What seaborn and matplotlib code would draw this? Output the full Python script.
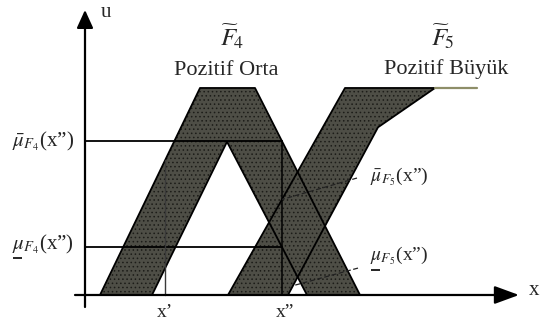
import numpy as np
import matplotlib
matplotlib.use("Agg")
import matplotlib.pyplot as plt
import seaborn as sns

# Interval type-2 fuzzy sets: footprints of uncertainty for F4 and F5
# upper / lower membership functions (x position, membership u)
f4_upper_x = [1.5, 11.5, 17.0, 27.5]
f4_upper_u = [0.0, 1.0, 1.0, 0.0]
f4_lower_x = [6.7, 14.2, 22.2]
f4_lower_u = [0.0, 0.74, 0.0]

f5_upper_x = [14.3, 26.0, 35.0]
f5_upper_u = [0.0, 1.0, 1.0]
f5_lower_x = [20.3, 29.3, 35.0]
f5_lower_u = [0.0, 0.81, 1.0]
f5_shoulder_end = 39.2

x_prime = 8.0
x_dprime = 19.7

set_names = [r"$\widetilde{F}_{\!4}$", r"$\widetilde{F}_{\!5}$"]
set_labels = ["Pozitif Orta", "Pozitif Büyük"]

sns.set_style("white")
plt.rcParams["font.family"] = ["Liberation Serif", "DejaVu Serif"]
plt.rcParams["mathtext.fontset"] = "stix"
plt.rcParams["hatch.linewidth"] = 0.6

fig = plt.figure(figsize=(5.41, 3.27), dpi=100)
ax = fig.add_axes([0, 0, 1, 1])
ax.set_xlim(-8.5, 45.6)
ax.set_ylim(-0.1546, 1.425)
ax.axis("off")

FILL = "#4e4e46"
GRAIN = "#1c1c18"


def fou(ux, uu, lx, lu, x0, x1):
    xs = np.linspace(x0, x1, 1200)
    up = np.interp(xs, ux, uu, left=0.0, right=0.0)
    lo = np.interp(xs, lx, lu, left=0.0, right=0.0)
    ax.fill_between(xs, lo, up, facecolor=FILL, edgecolor=GRAIN,
                    hatch="....", linewidth=0, zorder=1)


fou(f4_upper_x, f4_upper_u, f4_lower_x, f4_lower_u, f4_upper_x[0], f4_upper_x[-1])
fou(f5_upper_x, f5_upper_u, f5_lower_x, f5_lower_u, f5_upper_x[0], f5_upper_x[-1])

# membership function outlines
for xs, us in [(f4_upper_x, f4_upper_u), (f4_lower_x, f4_lower_u),
               (f5_upper_x, f5_upper_u), (f5_lower_x, f5_lower_u)]:
    sns.lineplot(x=xs, y=us, ax=ax, color="black", lw=1.3, sort=False,
                 estimator=None, zorder=3)
sns.lineplot(x=[f5_upper_x[-1], f5_shoulder_end], y=[1.0, 1.0], ax=ax,
             color="#8e8e68", lw=1.6, sort=False, estimator=None, zorder=3)

# membership grades at x'' and x'
mu4_up = np.interp(x_dprime, f4_upper_x, f4_upper_u)
mu4_lo = np.interp(x_dprime, f4_lower_x, f4_lower_u)
mu5_up = np.interp(x_dprime, f5_upper_x, f5_upper_u)
mu_xp = np.interp(x_prime, f4_upper_x, f4_upper_u)

ax.plot([0, x_dprime], [mu4_up, mu4_up], color="black", lw=1.3, zorder=4)
ax.plot([0, x_dprime], [mu4_lo, mu4_lo], color="black", lw=1.3, zorder=4)
ax.plot([x_dprime, x_dprime], [0, mu4_up], color="black", lw=1.1, zorder=4)
ax.plot([x_prime, x_prime], [0, mu_xp], color="#3a3a3a", lw=1.0, zorder=4)

# leaders for the F5 grades
ax.plot([27.2, x_dprime], [0.565, mu5_up], color="#222222", lw=0.9,
        ls=(0, (4, 2)), zorder=4)
ax.plot([27.3, 20.8], [0.13, np.interp(20.8, f5_lower_x, f5_lower_u)],
        color="#222222", lw=0.9, ls=(0, (4, 2)), zorder=4)

# axes with arrowheads
ax.annotate("", xy=(43.4, 0), xytext=(-1.0, 0),
            arrowprops=dict(arrowstyle="-|>,head_length=1.5,head_width=0.55",
                            mutation_scale=10, lw=1.6,
                            color="black", shrinkA=0, shrinkB=0), zorder=5)
ax.annotate("", xy=(0, 1.377), xytext=(0, -0.058),
            arrowprops=dict(arrowstyle="-|>,head_length=1.1,head_width=0.5",
                            mutation_scale=10, lw=1.6,
                            color="black", shrinkA=0, shrinkB=0), zorder=5)
ax.text(44.9, 0.02, "x", fontsize=15, ha="center", va="center")
ax.text(2.1, 1.365, "u", fontsize=15, ha="center", va="center")
ax.text(x_prime, -0.085, "x’", fontsize=14, ha="center", va="center")
ax.text(x_dprime + 0.3, -0.085, "x”", fontsize=14, ha="center", va="center")

# set names
ax.text(14.7, 1.245, set_names[0], fontsize=18, ha="center", va="center")
ax.text(14.1, 1.085, set_labels[0], fontsize=16, ha="center", va="center")
ax.text(35.8, 1.245, set_names[1], fontsize=18, ha="center", va="center")
ax.text(36.1, 1.09, set_labels[1], fontsize=16, ha="center", va="center")


def grade_label(x, y, bar, idx, size=15):
    if bar == "upper":
        s = r"$\bar{\mu}_{F_{%s}}$(x”)" % idx
    else:
        s = r"$\mu_{F_{%s}}$(x”)" % idx
    ax.text(x, y, s, fontsize=size, ha="left", va="center", zorder=6)
    if bar == "lower":
        # underline beneath the mu marks the lower membership grade
        ax.plot([x + 0.1, x + 1.0], [y - 0.068, y - 0.068], color="black",
                lw=1.2, solid_capstyle="butt", zorder=6)


grade_label(-7.3, 0.74, "upper", 4)
grade_label(-7.3, 0.245, "lower", 4)
grade_label(28.5, 0.57, "upper", 5, size=14)
grade_label(28.5, 0.19, "lower", 5, size=14)

fig.savefig("out.png", dpi=100, facecolor="white")
